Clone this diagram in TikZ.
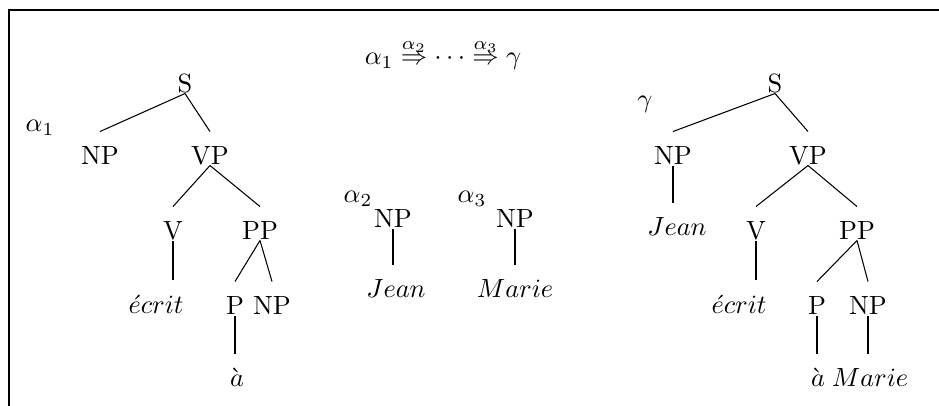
\documentclass[tikz,border=0pt]{standalone}
\begin{document}
\begin{tikzpicture}[x=0.3795pt,y=-0.3795pt,
  lab/.style={anchor=base,inner sep=0pt,text height=12.5pt,text depth=0pt},
  txt/.style={anchor=base,inner sep=0pt},
  edge/.style={line width=0.4pt},
  frame/.style={line width=0.8pt}]
\useasboundingbox (0,0) rectangle (939,406);
\draw[frame] (9,406) -- (9,10) -- (939,10);
% title
\node[txt] (title) at (443,65) {$\alpha_1 \stackrel{\alpha_2}{\Rightarrow} \cdots \stackrel{\alpha_3}{\Rightarrow} \gamma$};
% labels
\node[txt] (la1) at (40,132) {$\alpha_1$};
\node[txt] (la2) at (358,203) {$\alpha_2$};
\node[txt] (la3) at (472,203) {$\alpha_3$};
\node[txt] (lg) at (645,108) {$\gamma$};
% left tree
\node[lab] (S1) at (185,93) {S};
\node[lab] (NPa) at (100,165) {NP};
\node[lab] (VPa) at (210,165) {VP};
\node[lab] (Va) at (173,240) {V};
\node[lab] (PPa) at (260,240) {PP};
\node[lab] (Ea) at (156,313) {$\acute{e}crit$};
\node[lab] (Pa) at (235,315) {P};
\node[lab] (NPb) at (272,315) {NP};
\node[lab] (Aa) at (237,387) {$\grave{a}$};
\draw[edge] (S1.south) -- (NPa.north);
\draw[edge] (S1.south) -- (VPa.north);
\draw[edge] (VPa.south) -- (Va.north);
\draw[edge] (VPa.south) -- (PPa.north);
\draw[edge] (Va.south) -- (Va.south |- Ea.north);
\draw[edge] (PPa.south) -- (Pa.north);
\draw[edge] (PPa.south) -- (NPb.north);
\draw[edge] (Pa.south) -- (Pa.south |- Aa.north);
% alpha2
\node[lab] (NP2) at (393,228) {NP};
\node[lab] (J2) at (396,298) {$Jean$};
\draw[edge] (NP2.south) -- (NP2.south |- J2.north);
% alpha3
\node[lab] (NP3) at (515,228) {NP};
\node[lab] (M3) at (515,298) {$Marie$};
\draw[edge] (NP3.south) -- (NP3.south |- M3.north);
% right tree
\node[lab] (S2) at (775,93) {S};
\node[lab] (NPr) at (673,165) {NP};
\node[lab] (VPr) at (808,165) {VP};
\node[lab] (Jr) at (677,236) {$Jean$};
\node[lab] (Vr) at (756,240) {V};
\node[lab] (PPr) at (857,240) {PP};
\node[lab] (Er) at (739,313) {$\acute{e}crit$};
\node[lab] (Pr) at (817,315) {P};
\node[lab] (NPr2) at (868,315) {NP};
\node[lab] (Ar) at (818,387) {$\grave{a}$};
\node[lab] (Mr) at (870,387) {$Marie$};
\draw[edge] (S2.south) -- (NPr.north);
\draw[edge] (S2.south) -- (VPr.north);
\draw[edge] (NPr.south) -- (NPr.south |- Jr.north);
\draw[edge] (VPr.south) -- (Vr.north);
\draw[edge] (VPr.south) -- (PPr.north);
\draw[edge] (Vr.south) -- (Vr.south |- Er.north);
\draw[edge] (PPr.south) -- (Pr.north);
\draw[edge] (PPr.south) -- (NPr2.north);
\draw[edge] (Pr.south) -- (Pr.south |- Ar.north);
\draw[edge] (NPr2.south) -- (NPr2.south |- Mr.north);
\end{tikzpicture}
\end{document}
